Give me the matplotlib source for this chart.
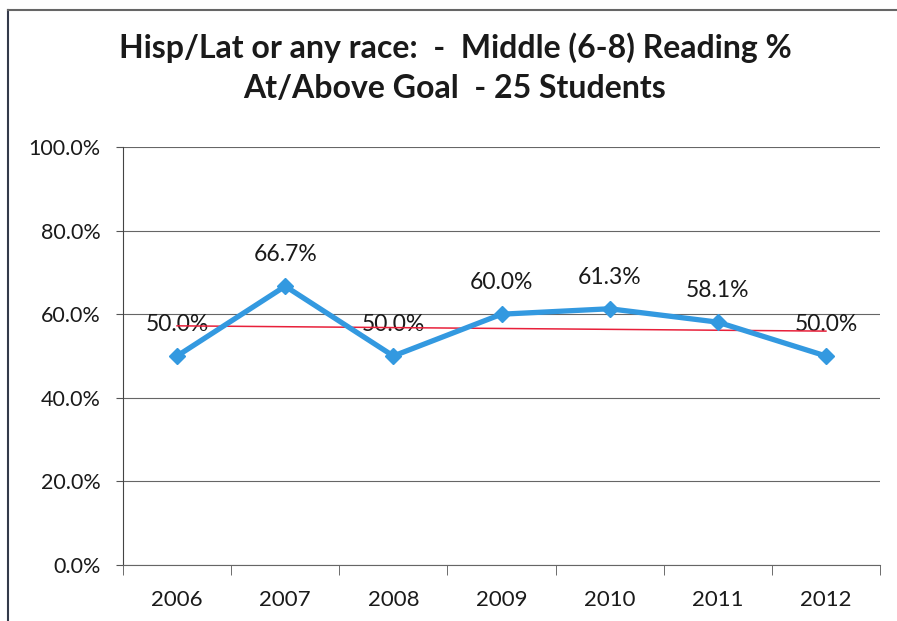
import numpy as np
import matplotlib.pyplot as plt
from matplotlib.lines import Line2D

years = ['2006', '2007', '2008', '2009', '2010', '2011', '2012']
pct = [50.0, 66.7, 50.0, 60.0, 61.3, 58.1, 50.0]
yticks = [0, 20, 40, 60, 80, 100]

plt.rcParams['font.family'] = ['Lato', 'DejaVu Sans']

fig = plt.figure(figsize=(8.97, 6.21), dpi=100)
ax = fig.add_axes([123 / 897, 1 - 565 / 621, (880 - 123) / 897, (565 - 147) / 621])

x = np.arange(len(years))

# linear trend line
k, b = np.polyfit(x, pct, 1)
ax.plot(x, k * x + b, color='#e8203a', lw=1.1, zorder=2)

ax.plot(x, pct, color='#3399e0', lw=3.8, marker='D', markersize=8,
        zorder=3, solid_joinstyle='miter')

for xi, v in zip(x, pct):
    ax.annotate(f'{v:.1f}%', (xi, v), xytext=(0, 15), textcoords='offset points',
                ha='center', va='bottom', fontsize=16.5, color='#1a1a1a', zorder=1)

ax.set_xlim(-0.5, len(years) - 0.5)
ax.set_ylim(0, 100)
ax.set_yticks(yticks)
ax.set_yticklabels([f'{t:.1f}%' for t in yticks])
ax.set_xticks(x)
ax.set_xticklabels(years)
ax.set_xticks(np.arange(len(years) + 1) - 0.5, minor=True)
ax.tick_params(axis='x', which='major', length=0, pad=18, labelsize=16, labelcolor='#1a1a1a')
ax.tick_params(axis='x', which='minor', length=7, color='#555555')
ax.tick_params(axis='y', length=5, color='#555555', labelsize=15.5, pad=11,
               labelcolor='#1a1a1a')

ax.grid(axis='y', color='#666666', lw=0.8)
ax.set_axisbelow(True)
for s in ['top', 'right']:
    ax.spines[s].set_visible(False)
ax.spines['left'].set_color('#444444')
ax.spines['bottom'].set_color('#666666')

fig.text(455 / 897, 1 - 48 / 621, 'Hisp/Lat or any race:  -  Middle (6-8) Reading %',
         ha='center', va='center', fontsize=23, fontweight='bold', color='#1a1a1a')
fig.text(455 / 897, 1 - 88 / 621, 'At/Above Goal  - 25 Students',
         ha='center', va='center', fontsize=23, fontweight='bold', color='#1a1a1a')

# outer frame of the scanned page
fig.add_artist(Line2D([8 / 897, 8 / 897], [0, 1 - 10 / 621], color='#333a4a', lw=1.5))
fig.add_artist(Line2D([8 / 897, 1], [1 - 10 / 621, 1 - 10 / 621], color='#666666', lw=1.5))

fig.savefig('out.png', dpi=100)
